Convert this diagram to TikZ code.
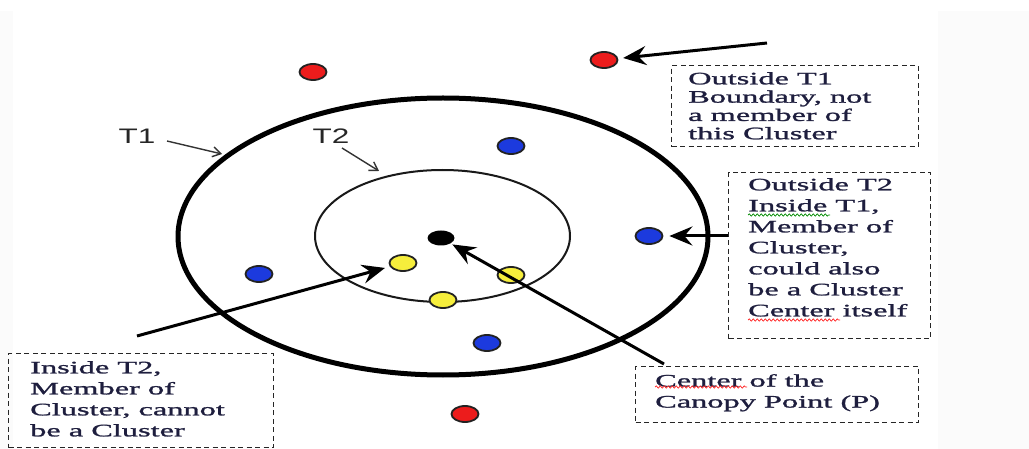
\documentclass[tikz,border=0pt]{standalone}
\usepackage{fontspec}
\usetikzlibrary{shapes.geometric,arrows.meta,decorations.pathmorphing}
\newfontfamily\boxfont[FakeStretch=1.85,FakeBold=1.4]{Liberation Serif}
\newfontfamily\labfont[FakeStretch=1.5]{Liberation Sans}
\definecolor{txtc}{RGB}{30,30,62}
\definecolor{redd}{RGB}{236,28,28}
\definecolor{blued}{RGB}{28,58,222}
\definecolor{yellowd}{RGB}{246,238,60}
\definecolor{dotline}{RGB}{34,34,34}
\begin{document}
\begin{tikzpicture}[x=1pt,y=-1pt,
  dot/.style={ellipse,draw=dotline,line width=1.8pt,minimum width=27pt,minimum height=16pt,inner sep=0pt},
  rdot/.style={dot,fill=redd},
  bdot/.style={dot,fill=blued},
  ydot/.style={dot,fill=yellowd},
  dbox/.style={draw=black!85,line width=1.4pt,dash pattern=on 5pt off 3.5pt,anchor=north west,inner sep=0pt},
  txt/.style={anchor=north west,inner sep=0pt,align=left,text=txtc,font=\boxfont\fontsize{17.5}{21}\selectfont},
  bigarrow/.style={line width=3pt,-{Stealth[length=23pt,width=19pt,inset=8pt]}},
  thinarrow/.style={line width=1.4pt,draw=black!80,-{Straight Barb[length=8pt,width=10pt]}},
  tlab/.style={inner sep=0pt,text=black!85,font=\labfont\fontsize{21}{21}\selectfont},
  wavyred/.style={draw=red!85,line width=0.7pt,decorate,decoration={snake,segment length=4pt,amplitude=1.1pt}},
  wavygreen/.style={draw=green!55!black,line width=0.7pt,decorate,decoration={snake,segment length=4pt,amplitude=1.1pt}}
]
\useasboundingbox (0,0) rectangle (1029,449);
\fill[white] (0,0) rectangle (1029,449);
\fill[black!1.5] (938,11) rectangle (1029,449);
\fill[black!1.5] (0,11) rectangle (13,449);

% thresholds
\node[ellipse,draw=black,line width=5pt,minimum width=530pt,minimum height=277pt,inner sep=0pt] (T1c) at (443,236.5) {};
\node[ellipse,draw=black!90,line width=2pt,minimum width=255pt,minimum height=132pt,inner sep=0pt] (T2c) at (442.5,236) {};

% points
\node[rdot] (r1) at (313,72) {};
\node[rdot] (r2) at (604,60) {};
\node[rdot] (r3) at (465,414) {};
\node[bdot] (bl1) at (511,146) {};
\node[bdot] (bl2) at (649,236) {};
\node[bdot] (bl3) at (259,274) {};
\node[bdot] (bl4) at (487,343) {};
\node[ydot] (y1) at (403,263) {};
\node[ydot] (y2) at (511,275) {};
\node[ydot] (y3) at (443,300) {};
\node[ellipse,fill=black,minimum width=27pt,minimum height=15pt,inner sep=0pt] (P) at (441,238) {};

% labels T1 T2
\node[tlab] (lT1) at (137,136) {T1};
\node[tlab] (lT2) at (331,136) {T2};
\coordinate (aT1) at (222,154);
\coordinate (aT2) at (379,171);
\draw[thinarrow] (167,141) -- (aT1);
\draw[thinarrow] (342,148) -- (aT2);

% boxes
\node[dbox,minimum width=247pt,minimum height=81pt] (b1) at (671,65) {};
\node[txt,font=\boxfont\fontsize{17.5}{18.3}\selectfont] (t1) at ([shift={(17,7)}]b1.north west) {Outside T1\\Boundary, not\\a member of\\this Cluster};
\node[dbox,minimum width=202pt,minimum height=166pt] (b2) at (728,172) {};
\node[txt] (t2) at ([shift={(20,6)}]b2.north west) {Outside T2\\Inside T1,\\Member of\\Cluster,\\could also\\be a Cluster\\Center itself};
\node[dbox,minimum width=283pt,minimum height=56pt] (b3) at (635,366) {};
\node[txt] (t3) at ([shift={(20,8)}]b3.north west) {Center of the\\Canopy Point (P)};
\node[dbox,minimum width=265pt,minimum height=94pt] (b4) at (8,353) {};
\node[txt] (t4) at ([shift={(22,8)}]b4.north west) {Inside T2,\\Member of\\Cluster, cannot\\be a Cluster};

% spell-check squiggles
\draw[wavygreen] (748,215) -- (830,215);
\draw[wavyred] (748,320) -- (840,320);
\draw[wavyred] (655,387) -- (747,387);

% pointer arrows
\coordinate (s1) at (767,43);
\draw[bigarrow,shorten >=5pt] (s1) -- (r2);
\coordinate (s2) at ([shift={(0,64)}]b2.north west);
\draw[bigarrow,shorten >=6pt] (s2) -- (bl2);
\coordinate (s3) at (664,364);
\draw[bigarrow,shorten >=2pt] (s3) -- (P);
\coordinate (s4) at (137,336);
\draw[bigarrow,shorten >=5pt] (s4) -- (y1);
\end{tikzpicture}
\end{document}
